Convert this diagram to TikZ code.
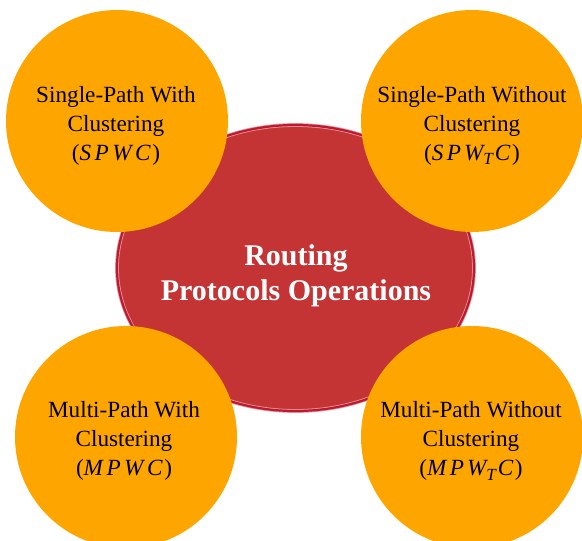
\documentclass[tikz,border=0pt]{standalone}
\usepackage{fontspec}
\setmainfont{Liberation Serif}
\usetikzlibrary{shapes.geometric}
\definecolor{orng}{RGB}{255,165,0}
\definecolor{redfill}{RGB}{196,52,52}
\definecolor{crimson}{RGB}{186,28,46}
\definecolor{pinkline}{RGB}{232,150,160}
\newcommand{\ital}[1]{\textit{#1}}
\tikzset{
  bubble/.style={circle, fill=orng, minimum size=222pt, inner sep=0pt},
  hub/.style={ellipse, fill=redfill, draw=pinkline, line width=0.8pt,
     double=crimson, double distance=2.2pt, minimum width=357pt, minimum height=286pt, inner sep=0pt},
  btext/.style={align=center, font=\fontsize{23.2}{29}\selectfont, text=black, inner sep=0pt},
  htext/.style={align=center, font=\fontsize{30}{35}\selectfont\bfseries, text=white, inner sep=0pt}
}
\begin{document}
\begin{tikzpicture}[x=1pt,y=-1pt]
\useasboundingbox (0,0) rectangle (582,541);
\node[hub] (hub) at (295.5,268) {};
\node[bubble] (tl) at (117,121) {};
\node[bubble] (tr) at (472,121) {};
\node[bubble] (bl) at (126,437) {};
\node[bubble] (br) at (472,437) {};
\node[htext] (title) at (296,276) {Routing\\Protocols Operations};
\node[btext] (tltext) at (116,125.5) {Single-Path With\\Clustering\\(\ital{S\kern3.5pt P\kern3.5pt W\kern3.5pt C}\kern1.5pt)};
\node[btext] (trtext) at (472,125.5) {Single-Path Without\\Clustering\\(\ital{S\kern3.5pt P\kern3pt W\raisebox{-4.5pt}{\fontsize{17}{17}\selectfont T}\kern2pt C}\kern1.5pt)};
\node[btext] (bltext) at (124,440.5) {Multi-Path With\\Clustering\\(\ital{M\kern3.5pt P\kern3.5pt W\kern3.5pt C}\kern1.5pt)};
\node[btext] (brtext) at (471,441) {Multi-Path Without\\Clustering\\(\ital{M\kern3.5pt P\kern3pt W\raisebox{-4.5pt}{\fontsize{17}{17}\selectfont T}\kern2pt C}\kern1.5pt)};
\end{tikzpicture}
\end{document}
